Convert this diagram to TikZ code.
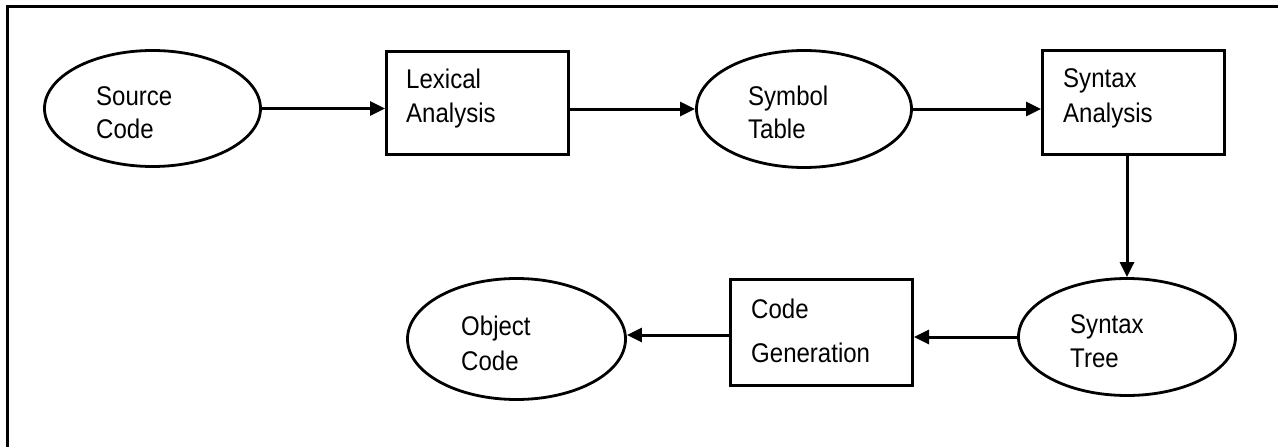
\documentclass[tikz,border=0pt]{standalone}
\usepackage{fontspec}
\setmainfont{Liberation Sans}
\newfontfamily\lblfont[FakeStretch=0.89]{Liberation Sans}
\usetikzlibrary{shapes.geometric,arrows.meta}
\begin{document}
\begin{tikzpicture}[x=1pt,y=-1pt,
  stage/.style={draw, rectangle, line width=3pt, inner sep=0pt},
  store/.style={draw, ellipse, line width=2.8pt, inner sep=0pt},
  word/.style={anchor=base west, inner sep=0pt, font=\lblfont\fontsize{27}{34}\selectfont},
  flow/.style={line width=3pt, -{Triangle[length=15pt,width=14pt]}}]
  \useasboundingbox (0,0) rectangle (1278,447);

  % outer frame (only its top and left edges fall on the page)
  \draw[line width=3pt, line join=miter] (7.5,452) -- (7.5,6) -- (1283,6);

  % stores (ellipses) and stages (boxes)
  \node[store, minimum width=216pt, minimum height=116pt] (src)  at (152.5,108.5) {};
  \node[stage, minimum width=182pt, minimum height=103pt] (lex)  at (477.5,103) {};
  \node[store, minimum width=215pt, minimum height=117pt] (sym)  at (804,109) {};
  \node[stage, minimum width=182pt, minimum height=104pt] (syn)  at (1133.5,102.5) {};
  \node[store, minimum width=217pt, minimum height=117pt] (tree) at (1127,337) {};
  \node[stage, minimum width=182pt, minimum height=106pt] (gen)  at (821.5,332.5) {};
  \node[store, minimum width=218pt, minimum height=121pt] (obj)  at (516.5,339) {};

  % labels
  \node[word] (srcA)  at (96,105)   {Source};
  \node[word] (srcB)  at (96,138)   {Code};
  \node[word] (lexA)  at (406,88)   {Lexical};
  \node[word] (lexB)  at (406,122)  {Analysis};
  \node[word] (symA)  at (748,105)  {Symbol};
  \node[word] (symB)  at (748,138)  {Table};
  \node[word] (synA)  at (1063,87)  {Syntax};
  \node[word] (synB)  at (1063,122) {Analysis};
  \node[word] (treeA) at (1070,333) {Syntax};
  \node[word] (treeB) at (1070,367) {Tree};
  \node[word] (genA)  at (751,318)  {Code};
  \node[word] (genB)  at (751,362)  {Generation};
  \node[word] (objA)  at (461,335)  {Object};
  \node[word] (objB)  at (461,370)  {Code};

  % connectors
  \draw[flow] (src.east) -- (src.east -| lex.west);
  \draw[flow] (sym.west -| lex.east) -- (sym.west);
  \draw[flow] (sym.east) -- (sym.east -| syn.west);
  \draw[flow] (tree.north |- syn.south) -- (tree.north);
  \draw[flow] (tree.west) -- (tree.west -| gen.east);
  \draw[flow] ([yshift=-2.5pt]gen.west) -- ([yshift=-2.5pt]gen.west -| obj.east);
\end{tikzpicture}
\end{document}
